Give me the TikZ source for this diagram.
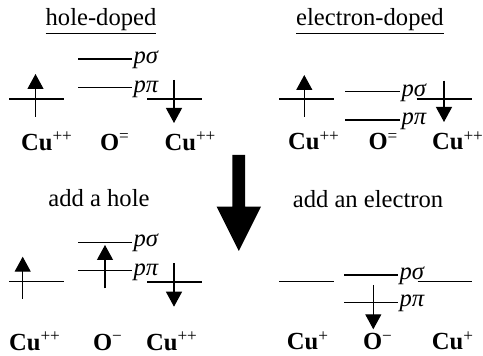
\documentclass[tikz,border=0pt]{standalone}
\usepackage{fontspec}
\setmainfont{Liberation Serif}
\usetikzlibrary{arrows.meta}

\begin{document}
\begin{tikzpicture}[
    x=0.5pt, y=-0.5pt,
    font=\fontsize{12.3}{14}\selectfont,
    lbl/.style={inner sep=0pt, anchor=base},
    orb/.style={inner sep=0pt, anchor=mid west, xshift=0.5pt},
    level/.style={line width=0.6pt},
    spin/.style={-{Triangle[length=7.5pt,width=8pt]}, line width=0.6pt}
]
\useasboundingbox (0,0) rectangle (483,356);

% Titles
\node[lbl] (holetitle) at (101,25.5) {\underline{hole-doped}};
\node[lbl] (electitle) at (370,25.5) {\underline{electron-doped}};
\node[lbl] (addhole) at (99,206.5) {add a hole};
\node[lbl] (addelec) at (368,207.5) {add an electron};

% Big arrow
\fill (232.3,155) -- (245,155) -- (245,206.7) -- (261,206.7) -- (238.8,251)
      -- (216.7,206.7) -- (232.3,206.7) -- cycle;

% Hole-doped, parent
\draw[level] (78,59) -- (132,59) node[orb] (psA) {\textit{pσ}};
\draw[level] (78,87.7) -- (132,87.7) node[orb] (ppA) {\textit{pπ}};
\draw[level] (9,99) -- (64,99);
\draw[spin] (35.5,117) -- (35.5,74);
\draw[level] (147,99) -- (202,99);
\draw[spin] (174,80) -- (174,123);
\node[lbl] (cuA) at (47,150.5) {\textbf{Cu}\textsuperscript{++}};
\node[lbl] (oA) at (115,150.5) {\textbf{O}\textsuperscript{=}};
\node[lbl] (cuB) at (190.5,150.5) {\textbf{Cu}\textsuperscript{++}};

% Electron-doped, parent
\draw[level] (279,99) -- (334,99);
\draw[spin] (304.3,117) -- (304.3,75);
\draw[level] (345,91.7) -- (400,91.7) node[orb] (psB) {\textit{pσ}};
\draw[level] (345,120) -- (400,120) node[orb] (ppB) {\textit{pπ}};
\draw[level] (416.7,99) -- (472,99);
\draw[spin] (444,80.7) -- (444,122);
\node[lbl] (cuC) at (314,150) {\textbf{Cu}\textsuperscript{++}};
\node[lbl] (oB) at (383.5,150) {\textbf{O}\textsuperscript{=}};
\node[lbl] (cuD) at (458,150) {\textbf{Cu}\textsuperscript{++}};

% Hole added
\draw[level] (9,281.7) -- (64,281.7);
\draw[spin] (22.7,299) -- (22.7,256.7);
\draw[level] (78,242.3) -- (132,242.3) node[orb] (psC) {\textit{pσ}};
\draw[level] (78,270.7) -- (132,270.7) node[orb] (ppC) {\textit{pπ}};
\draw[spin] (105,288.3) -- (105,245);
\draw[level] (147,282) -- (202,282);
\draw[spin] (174,263.3) -- (174,306.7);
\node[lbl] (cuE) at (35,350.7) {\textbf{Cu}\textsuperscript{++}};
\node[lbl] (oC) at (108,350.7) {\textbf{O}\textsuperscript{−}};
\node[lbl] (cuF) at (172,350.7) {\textbf{Cu}\textsuperscript{++}};

% Electron added
\draw[level] (279,281.7) -- (334,281.7);
\draw[level] (344,275) -- (398,275) node[orb] (psD) {\textit{pσ}};
\draw[level] (344,302.3) -- (398,302.3) node[orb] (ppD) {\textit{pπ}};
\draw[spin] (373.3,285) -- (373.3,329.3);
\draw[level] (417.7,281.7) -- (472,281.7);
\node[lbl] (cuG) at (308,350) {\textbf{Cu}\textsuperscript{+}};
\node[lbl] (oD) at (378,350) {\textbf{O}\textsuperscript{−}};
\node[lbl] (cuH) at (453,350) {\textbf{Cu}\textsuperscript{+}};

\end{tikzpicture}
\end{document}
